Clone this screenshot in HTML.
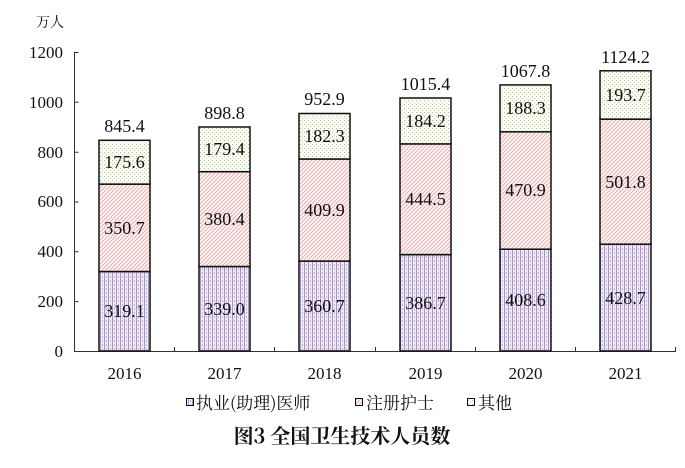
<!DOCTYPE html>
<html><head><meta charset="utf-8"><style>
body{margin:0;background:#fff}
svg text{font-family:"Liberation Serif","Noto Serif CJK SC",serif;fill:#111}
</style></head><body>
<svg width="685" height="463" viewBox="0 0 685 463" xmlns="http://www.w3.org/2000/svg">
<defs>
<pattern id="pd" width="4" height="4" patternUnits="userSpaceOnUse">
<rect width="4" height="4" fill="#f0ebf7"/>
<rect x="0" width="1" height="4" fill="#a792cc"/>
<rect x="2" y="0" width="1" height="2" fill="#c2b4de"/>
</pattern>
<pattern id="pn" width="4" height="4" patternUnits="userSpaceOnUse">
<rect width="4" height="4" fill="#fdf6f6"/>
<path d="M-1,1 L1,-1 M0,4 L4,0 M3,5 L5,3" stroke="#e8a8a8" stroke-width="0.9"/>
</pattern>
<pattern id="po" width="4" height="4" patternUnits="userSpaceOnUse">
<rect width="4" height="4" fill="#fcfdf7"/>
<rect x="0" y="0" width="1" height="1" fill="#a6c67a"/>
<rect x="2" y="2" width="1" height="1" fill="#c4dba2"/>
</pattern>
</defs>
<text x="36" y="27" font-size="14" style="font-family:'Noto Serif CJK SC',serif">万人</text>
<g font-size="17" text-anchor="end">
<text x="63" y="58">1200</text><text x="63" y="108">1000</text><text x="63" y="158">800</text>
<text x="63" y="207">600</text><text x="63" y="257">400</text><text x="63" y="307">200</text><text x="63" y="357">0</text>
</g>
<g stroke="#333" stroke-width="1" fill="none">
<path d="M74.5,52 V351 M74.5,52.5h4 M74.5,102.3h4 M74.5,152.2h4 M74.5,202h4 M74.5,251.8h4 M74.5,301.6h4"/>
<path d="M74,351.5 H676 M174.5,351v-4 M274.5,351v-4 M375.5,351v-4 M475.5,351v-4 M575.5,351v-4 M675.5,351v-4"/>
</g>
<g stroke="#111" stroke-width="1.5">
<rect x="99" y="271.5" width="51" height="79.5" fill="url(#pd)"/><rect x="99" y="184.1" width="51" height="87.4" fill="url(#pn)"/><rect x="99" y="140.3" width="51" height="43.8" fill="url(#po)"/>
<rect x="199" y="266.5" width="51" height="84.5" fill="url(#pd)"/><rect x="199" y="171.7" width="51" height="94.8" fill="url(#pn)"/><rect x="199" y="127" width="51" height="44.7" fill="url(#po)"/>
<rect x="299" y="261.1" width="51" height="89.9" fill="url(#pd)"/><rect x="299" y="159" width="51" height="102.1" fill="url(#pn)"/><rect x="299" y="113.5" width="51" height="45.5" fill="url(#po)"/>
<rect x="400" y="254.6" width="51" height="96.4" fill="url(#pd)"/><rect x="400" y="143.9" width="51" height="110.7" fill="url(#pn)"/><rect x="400" y="98" width="51" height="45.9" fill="url(#po)"/>
<rect x="500" y="249.2" width="51" height="101.8" fill="url(#pd)"/><rect x="500" y="131.8" width="51" height="117.4" fill="url(#pn)"/><rect x="500" y="84.9" width="51" height="46.9" fill="url(#po)"/>
<rect x="600" y="244.2" width="51" height="106.8" fill="url(#pd)"/><rect x="600" y="119.1" width="51" height="125.1" fill="url(#pn)"/><rect x="600" y="70.8" width="51" height="48.3" fill="url(#po)"/>
</g>
<g font-size="18" text-anchor="middle">
<text x="124.5" y="317">319.1</text><text x="124.5" y="234">350.7</text><text x="124.5" y="168">175.6</text><text x="124.5" y="132">845.4</text>
<text x="224.5" y="315">339.0</text><text x="224.5" y="225">380.4</text><text x="224.5" y="155">179.4</text><text x="224.5" y="119">898.8</text>
<text x="324.5" y="312">360.7</text><text x="324.5" y="216">409.9</text><text x="324.5" y="142">182.3</text><text x="324.5" y="105">952.9</text>
<text x="425.5" y="309">386.7</text><text x="425.5" y="205">444.5</text><text x="425.5" y="127">184.2</text><text x="425.5" y="90">1015.4</text>
<text x="525.5" y="306">408.6</text><text x="525.5" y="196">470.9</text><text x="525.5" y="114">188.3</text><text x="525.5" y="77">1067.8</text>
<text x="625.5" y="304">428.7</text><text x="625.5" y="188">501.8</text><text x="625.5" y="101">193.7</text><text x="625.5" y="63">1124.2</text>
</g>
<g font-size="17" text-anchor="middle">
<text x="124.5" y="379">2016</text><text x="224.5" y="379">2017</text><text x="324.5" y="379">2018</text>
<text x="425.5" y="379">2019</text><text x="525.5" y="379">2020</text><text x="625.5" y="379">2021</text>
</g>
<g stroke="#111" stroke-width="1">
<rect x="186.5" y="398.5" width="7" height="7" fill="url(#pd)"/>
<rect x="355.5" y="398.5" width="7" height="7" fill="url(#pn)"/>
<rect x="467.5" y="398.5" width="7" height="7" fill="url(#po)"/>
</g>
<g font-size="17">
<text x="196" y="409" style="font-family:'Noto Serif CJK SC',serif">执业(助理)医师</text>
<text x="366" y="409" style="font-family:'Noto Serif CJK SC',serif">注册护士</text>
<text x="478" y="409" style="font-family:'Noto Serif CJK SC',serif">其他</text>
</g>
<text x="342" y="443" font-size="20" font-weight="bold" text-anchor="middle" style="font-family:'Noto Serif CJK SC',serif">图3 全国卫生技术人员数</text>
</svg>
</body></html>
